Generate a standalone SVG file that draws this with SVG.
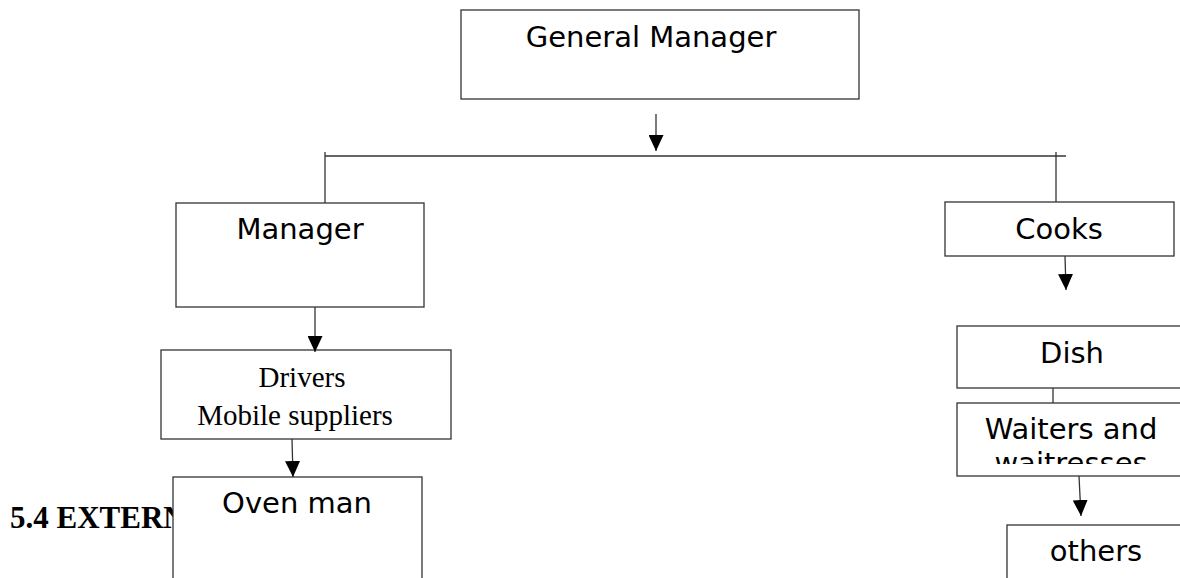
<svg xmlns="http://www.w3.org/2000/svg" width="1180" height="578" viewBox="0 0 1180 578">
<style>
.box{fill:#fff;stroke:#333;stroke-width:1.3}
.t{font-family:"DejaVu Sans",sans-serif;font-size:29px;fill:#000;text-anchor:middle}
.s{font-family:"Liberation Serif",serif;font-size:29px;fill:#000;text-anchor:middle}
.c{stroke:#333;stroke-width:1.3;fill:none}
</style>
<defs>
<marker id="ah" markerUnits="userSpaceOnUse" markerWidth="16" markerHeight="15" refX="16" refY="7.5" orient="auto">
<path d="M0,0 L16,7.5 L0,15 z" fill="#000"/>
</marker>
<clipPath id="wclip"><rect x="957" y="403" width="230" height="61"/></clipPath>
</defs>
<rect width="1180" height="578" fill="#fff"/>
<text x="10" y="528" font-family="'Liberation Serif',serif" font-size="31" font-weight="bold">5.4 EXTERNAL</text>
<g id="general-manager"><rect class="box" x="461" y="10" width="398" height="89"/><text class="t" x="651" y="47">General Manager</text></g>
<g id="manager"><rect class="box" x="176" y="203" width="248" height="104"/><text class="t" x="300" y="239">Manager</text></g>
<g id="cooks"><rect class="box" x="945" y="202" width="229" height="54"/><text class="t" x="1059" y="239">Cooks</text></g>
<g id="drivers"><rect class="box" x="161" y="350" width="290" height="89"/><text class="s" x="302" y="387">Drivers</text><text class="s" x="295" y="425">Mobile suppliers</text></g>
<g id="oven-man"><rect class="box" x="173" y="477" width="249" height="120"/><text class="t" x="297" y="513">Oven man</text></g>
<g id="dish"><rect class="box" x="957" y="326" width="230" height="62"/><text class="t" x="1072" y="363">Dish</text></g>
<g id="waiters"><rect class="box" x="957" y="403" width="230" height="73"/><g clip-path="url(#wclip)"><text class="t" x="1071" y="439">Waiters and</text><text class="t" x="1071" y="473">waitresses</text></g></g>
<g id="others"><rect class="box" x="1007" y="525" width="180" height="70"/><text class="t" x="1096" y="561">others</text></g>
<g id="connectors">
<line class="c" x1="656" y1="114" x2="656" y2="151" marker-end="url(#ah)"/>
<line class="c" x1="325" y1="156" x2="1066" y2="156"/>
<line class="c" x1="325" y1="152" x2="325" y2="203"/>
<line class="c" x1="1056" y1="152" x2="1056" y2="202"/>
<line class="c" x1="315" y1="307" x2="315" y2="352" marker-end="url(#ah)"/>
<line class="c" x1="292" y1="439" x2="293" y2="477" marker-end="url(#ah)"/>
<line class="c" x1="1065" y1="256" x2="1066" y2="290" marker-end="url(#ah)"/>
<line class="c" x1="1053" y1="388" x2="1053" y2="403"/>
<line class="c" x1="1079" y1="476" x2="1081" y2="516" marker-end="url(#ah)"/>
</g>
</svg>
